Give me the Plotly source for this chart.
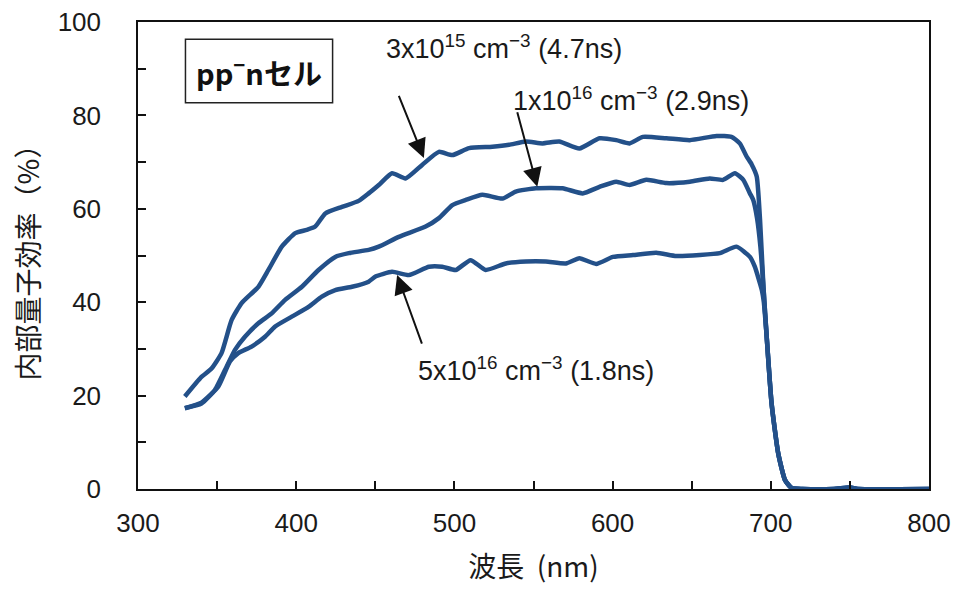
import plotly.graph_objects as go

# ---- data ----
wl_3e15 = [329.6, 340.1, 346.5, 352.8, 359.2, 365.5, 376.1, 382.4, 390.9, 399.4, 406.7, 412.0,
           418.4, 428.9, 439.5, 445.8, 452.2, 460.6, 469.1, 479.6, 490.2, 498.7, 509.3, 524.0,
           534.6, 545.2, 555.7, 566.3, 579.0, 591.7, 602.3, 610.7, 619.2, 634.0, 648.8, 665.7,
           675.1, 680.4, 684.7, 687.9, 691.1, 693.2, 695.4, 697.4, 700.5, 704.7, 709.0, 713.2,
           720.0, 740.0, 750.0, 755.0, 800.0]
qe_3e15 = [19.8, 24.0, 25.8, 29.1, 36.2, 39.8, 43.3, 46.9, 51.9, 54.8, 55.5, 56.2,
           59.0, 60.4, 61.7, 63.3, 65.1, 67.6, 66.5, 69.4, 72.2, 71.5, 73.0, 73.3,
           73.7, 74.4, 74.0, 74.4, 72.9, 75.1, 74.7, 74.0, 75.4, 75.1, 74.7, 75.6,
           75.4, 74.0, 71.2, 69.5, 66.9, 57.6, 43.0, 32.6, 18.3, 7.6, 1.9, 0.2,
           0.0, 0.0, 0.3, 0.0, 0.0]

wl_1e16 = [329.6, 340.1, 348.6, 356.0, 361.3, 367.6, 376.1, 384.5, 393.0, 403.6, 414.1, 424.7,
           433.2, 445.8, 452.2, 464.9, 481.8, 490.2, 498.7, 507.2, 517.7, 530.4, 538.8, 551.5,
           568.4, 581.1, 591.7, 602.3, 610.7, 621.3, 634.0, 648.8, 661.4, 669.9, 677.3, 682.6,
           686.8, 688.9, 691.3, 693.4, 695.4, 697.4, 700.5, 704.7, 709.0, 713.2,
           720.0, 740.0, 750.0, 755.0, 800.0]
qe_1e16 = [17.3, 18.3, 21.2, 26.2, 29.8, 32.6, 35.5, 37.6, 40.5, 43.3, 46.9, 49.7,
           50.5, 51.2, 51.9, 54.0, 56.2, 58.0, 60.8, 61.9, 63.0, 62.2, 63.7, 64.4,
           64.4, 63.3, 64.7, 65.8, 65.1, 66.2, 65.5, 65.8, 66.5, 66.2, 67.6, 66.2,
           63.3, 61.9, 58.0, 52.0, 43.0, 32.6, 18.3, 7.6, 1.9, 0.2,
           0.0, 0.0, 0.3, 0.0, 0.0]

wl_5e16 = [329.6, 340.1, 350.7, 358.1, 363.4, 371.8, 380.3, 386.7, 397.2, 407.8, 416.2, 424.7,
           435.3, 445.8, 450.1, 460.6, 471.2, 483.9, 492.3, 500.8, 510.2, 519.8, 532.5, 545.2,
           557.8, 570.5, 579.0, 589.6, 600.2, 612.9, 627.6, 640.3, 655.1, 667.8, 678.3, 686.8,
           689.9, 692.3, 694.4, 695.6, 697.4, 700.5, 704.7, 709.0, 713.2,
           720.0, 740.0, 750.0, 755.0, 800.0]
qe_5e16 = [17.3, 18.5, 21.9, 27.3, 29.1, 30.5, 32.6, 34.8, 36.9, 39.0, 41.2, 42.6,
           43.3, 44.4, 45.5, 46.5, 45.8, 47.6, 47.6, 46.9, 49.0, 46.9, 48.3, 48.7,
           48.7, 48.3, 49.4, 48.2, 49.7, 50.1, 50.6, 49.9, 50.1, 50.5, 51.9, 49.7,
           47.6, 45.0, 42.5, 40.0, 32.6, 18.3, 7.6, 1.9, 0.2,
           0.0, 0.0, 0.3, 0.0, 0.0]

series_names = ["3x10^15 cm^-3 (4.7ns)", "1x10^16 cm^-3 (2.9ns)", "5x10^16 cm^-3 (1.8ns)"]
label_texts = ["3x10<sup>15</sup> cm<sup>−3</sup> (4.7ns)",
               "1x10<sup>16</sup> cm<sup>−3</sup> (2.9ns)",
               "5x10<sup>16</sup> cm<sup>−3</sup> (1.8ns)"]
# label centre (nm, %) and arrow tail -> head (nm, %)
label_pos = [(531.5, 94.6), (611.5, 83.5), (551.5, 25.7)]
arrow_tail = [(464.5, 84.5), (539.5, 81.0), (479.8, 30.8)]
arrow_head = [(480.7, 70.9), (552.4, 64.7), (463.8, 45.8)]

x_ticks = [300, 400, 500, 600, 700, 800]
y_ticks = [0, 20, 40, 60, 80, 100]

BLUE = "#235089"
TXT = "#1a1a1a"
LATIN = "Liberation Sans, Arial, sans-serif"
JPFONT = "Noto Sans CJK JP, sans-serif"
TICKFONT = dict(family=LATIN, size=26, color=TXT)

fig = go.Figure()
for wl, qe, name in zip([wl_3e15, wl_1e16, wl_5e16], [qe_3e15, qe_1e16, qe_5e16], series_names):
    fig.add_trace(go.Scatter(x=wl, y=qe, mode="lines", name=name,
                             line=dict(color=BLUE, width=4.5, shape="spline", smoothing=0.5),
                             showlegend=False))

for txt, (lx, ly), (tx, ty), (hx, hy) in zip(label_texts, label_pos, arrow_tail, arrow_head):
    fig.add_annotation(x=lx, y=ly, text=txt, showarrow=False,
                       font=dict(family=LATIN, size=27, color=TXT))
    fig.add_annotation(x=hx, y=hy, ax=tx, ay=ty, axref="x", ayref="y", text="",
                       showarrow=True, arrowhead=2, arrowsize=1.9, arrowwidth=2,
                       arrowcolor="#111111", standoff=0, startstandoff=0)

# cell-type label box
fig.add_shape(type="rect", x0=330, x1=423, y0=82.7, y1=96.3, xref="x", yref="y",
              line=dict(color="#222222", width=1.5), fillcolor="white")
fig.add_annotation(x=376.5, y=89.5, text="<b>pp<sup>−</sup>nセル</b>", showarrow=False,
                   font=dict(family=JPFONT, size=29, color="#111111"))

fig.update_xaxes(range=[300, 800], tickvals=x_ticks, showgrid=False, zeroline=False,
                 showline=True, linecolor="#111111", linewidth=1.5, mirror=True,
                 ticks="inside", ticklen=8, tickwidth=1.5, tickcolor="#111111",
                 minor=dict(dtick=50, tick0=300, ticks="inside", ticklen=8, tickwidth=1.5,
                            tickcolor="#111111"),
                 tickfont=TICKFONT, ticklabelstandoff=10, automargin=False,
                 title=dict(text="波長\u00a0\u00a0(nm)", font=dict(family=JPFONT, size=28, color=TXT),
                            standoff=20))
fig.update_yaxes(range=[0, 100], tickvals=y_ticks, showgrid=False, zeroline=False,
                 showline=True, linecolor="#111111", linewidth=1.5, mirror=True,
                 ticks="inside", ticklen=8, tickwidth=1.5, tickcolor="#111111",
                 minor=dict(dtick=10, tick0=0, ticks="inside", ticklen=8, tickwidth=1.5,
                            tickcolor="#111111"),
                 tickfont=TICKFONT, ticklabelstandoff=30, automargin=False,
                 title=dict(text="内部量子効率（%）", font=dict(family=JPFONT, size=28, color=TXT),
                            standoff=10))

fig.update_layout(width=953, height=590, margin=dict(l=138, r=24, t=22, b=101, autoexpand=False),
                  plot_bgcolor="white", paper_bgcolor="white")

fig.write_html("out.html")
